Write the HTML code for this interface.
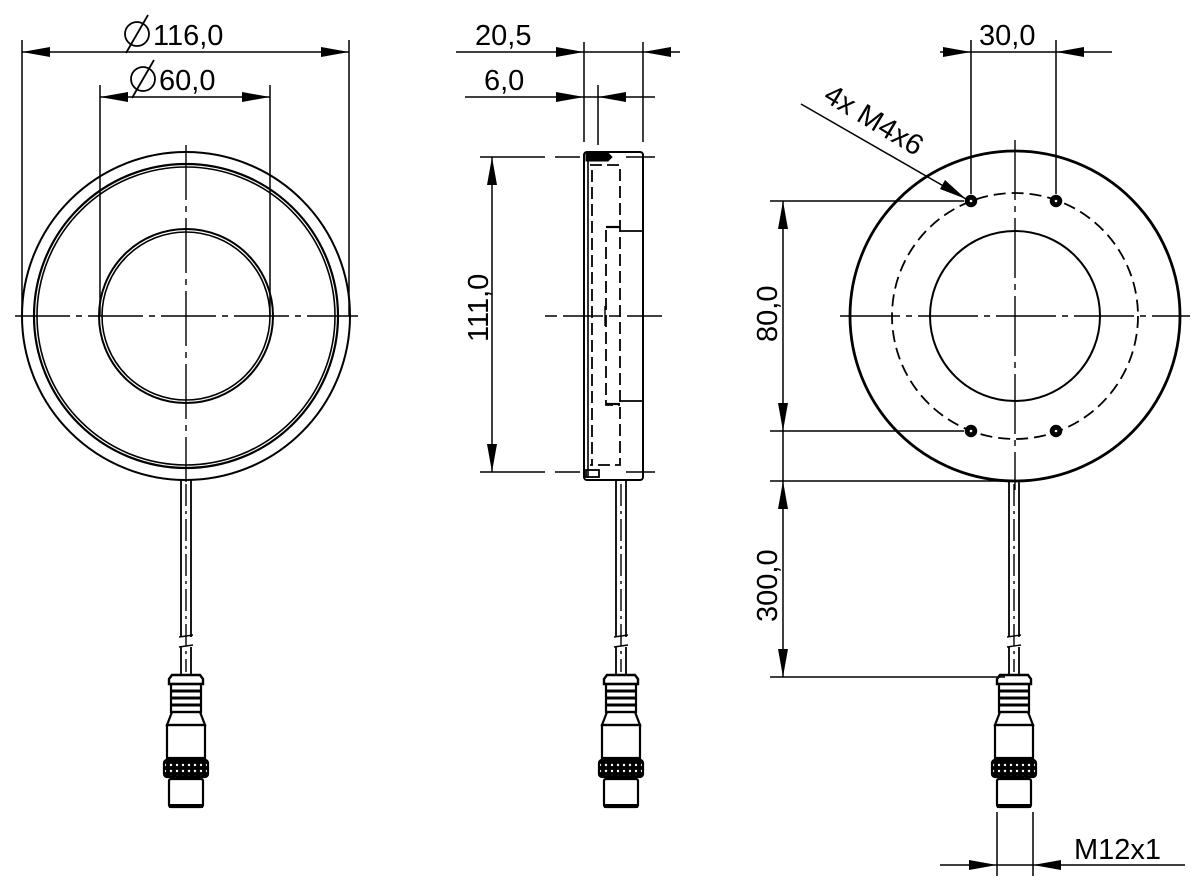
<!DOCTYPE html>
<html><head><meta charset="utf-8"><style>html,body{margin:0;padding:0;background:#fff}svg{display:block}text{font-family:"Liberation Sans",Arial,sans-serif;font-size:29px;fill:#000}</style></head><body>
<svg width="1200" height="894" viewBox="0 0 1200 894" xmlns="http://www.w3.org/2000/svg">
<defs>
<pattern id="kn" width="6" height="6" patternUnits="userSpaceOnUse"><rect width="6" height="6" fill="#000"/><circle cx="3" cy="3" r="1.2" fill="#fff"/></pattern>
<g id="conn" stroke="#000" fill="none" stroke-width="1.8">
<line x1="0" y1="484" x2="0" y2="672" stroke-dasharray="22,5,3,5" stroke-width="1.4"/>
<path d="M-14,675 L14,675 L17,679 L17,684 L-17,684 L-17,679 Z" stroke-width="2.4"/>
<rect x="-15" y="684" width="30" height="28" stroke-width="2.2"/>
<line x1="-15" y1="691" x2="15" y2="691" stroke-width="3"/>
<line x1="-15" y1="698" x2="15" y2="698" stroke-width="3"/>
<line x1="-15" y1="705" x2="15" y2="705" stroke-width="3"/>
<path d="M-14,712 L14,712 L19,725 L-19,725 Z" stroke-width="2.2"/>
<rect x="-19" y="725" width="38" height="33" stroke-width="2.2"/>
<rect x="-22" y="760" width="44" height="17" rx="3" fill="url(#kn)" stroke-width="2.2"/>
<rect x="-17" y="779" width="34" height="28" rx="2" stroke-width="2.2"/>
<line x1="-17" y1="806" x2="17" y2="806" stroke-width="4"/>
</g>
</defs>
<g stroke="#000" fill="none">
<!-- LEFT VIEW -->
<circle cx="186" cy="316" r="164" stroke-width="2"/>
<circle cx="186" cy="316" r="152" stroke-width="2.2"/>
<circle cx="186" cy="316" r="149" stroke-width="1.6"/>
<circle cx="186" cy="316" r="87" stroke-width="2"/>
<circle cx="186" cy="316" r="84" stroke-width="1.6"/>
<line x1="15" y1="316" x2="358" y2="316" stroke-width="1.4" stroke-dasharray="55,6,6,6"/>
<line x1="186" y1="145" x2="186" y2="482" stroke-width="1.4" stroke-dasharray="55,6,6,6"/>
<line x1="181" y1="480" x2="181" y2="637" stroke-width="1.8"/><line x1="191" y1="480" x2="191" y2="637" stroke-width="1.8"/>
<line x1="181" y1="647" x2="181" y2="675" stroke-width="1.8"/><line x1="191" y1="647" x2="191" y2="675" stroke-width="1.8"/>
<path d="M179,637 L193,635 M179,647 L193,645" stroke-width="1.4"/>
<line x1="22" y1="40" x2="22" y2="316" stroke-width="1.5"/>
<line x1="349" y1="40" x2="349" y2="316" stroke-width="1.5"/>
<line x1="22" y1="52" x2="349" y2="52" stroke-width="1.5"/>
<line x1="100" y1="85" x2="100" y2="316" stroke-width="1.5"/>
<line x1="270" y1="85" x2="270" y2="316" stroke-width="1.5"/>
<line x1="100" y1="97" x2="270" y2="97" stroke-width="1.5"/>
<!-- MIDDLE VIEW -->
<rect x="584" y="152" width="59" height="328" rx="3" stroke-width="2"/>
<line x1="588" y1="155" x2="588" y2="478" stroke-width="1.6"/>
<path d="M590,165 L620,165 L620,465 L590,465" stroke-width="1.8" stroke-dasharray="12,5"/>
<line x1="592" y1="170" x2="592" y2="465" stroke-width="1.8" stroke-dasharray="12,5"/>
<path d="M620,227 L606,227 L606,405 L620,405" stroke-width="1.8" stroke-dasharray="12,5"/>
<line x1="606" y1="227" x2="620" y2="227" stroke-width="2.2"/>
<line x1="606" y1="404" x2="620" y2="404" stroke-width="2.2"/>
<line x1="620" y1="231" x2="643" y2="231" stroke-width="1.8"/>
<line x1="620" y1="401" x2="643" y2="401" stroke-width="1.8"/>
<path d="M586,153 L608,153 L612,157 L608,161 L586,161 Z" fill="#000"/>
<rect x="586" y="470" width="13" height="7" stroke-width="1.8"/>
<line x1="545" y1="316" x2="662" y2="316" stroke-width="1.4" stroke-dasharray="12,6,40,6"/>
<line x1="605" y1="306" x2="605" y2="326" stroke-width="1.4"/>
<line x1="480" y1="157" x2="545" y2="157" stroke-width="1.5"/><line x1="555" y1="157" x2="580" y2="157" stroke-width="1.5"/><line x1="626" y1="157" x2="655" y2="157" stroke-width="1.5"/>
<line x1="480" y1="472" x2="545" y2="472" stroke-width="1.5"/><line x1="555" y1="472" x2="580" y2="472" stroke-width="1.5"/><line x1="626" y1="472" x2="655" y2="472" stroke-width="1.5"/>
<line x1="492" y1="157" x2="492" y2="472" stroke-width="1.5"/>
<line x1="584" y1="42" x2="584" y2="142" stroke-width="1.5"/>
<line x1="643" y1="42" x2="643" y2="142" stroke-width="1.5"/>
<line x1="598" y1="85" x2="598" y2="145" stroke-width="1.5"/>
<line x1="456" y1="52" x2="680" y2="52" stroke-width="1.5"/>
<line x1="465" y1="97" x2="655" y2="97" stroke-width="1.5"/>
<line x1="616" y1="480" x2="616" y2="637" stroke-width="1.8"/><line x1="626" y1="480" x2="626" y2="637" stroke-width="1.8"/>
<line x1="616" y1="647" x2="616" y2="675" stroke-width="1.8"/><line x1="626" y1="647" x2="626" y2="675" stroke-width="1.8"/>
<path d="M614,637 L628,635 M614,647 L628,645" stroke-width="1.4"/>
<!-- RIGHT VIEW -->
<circle cx="1015" cy="316" r="165" stroke-width="2.8"/>
<circle cx="1015" cy="316" r="123" stroke-width="1.8" stroke-dasharray="12,6"/>
<circle cx="1015" cy="316" r="85" stroke-width="2"/>
<line x1="840" y1="316" x2="1190" y2="316" stroke-width="1.4" stroke-dasharray="60,6,6,6"/>
<line x1="1015" y1="140" x2="1015" y2="490" stroke-width="1.4" stroke-dasharray="60,6,6,6"/>
<g stroke-width="1.5">
<circle cx="971" cy="201" r="5.5" fill="#000"/><circle cx="1056" cy="201" r="5.5" fill="#000"/>
<circle cx="971" cy="431" r="5.5" fill="#000"/><circle cx="1056" cy="431" r="5.5" fill="#000"/>
</g>
<g fill="#fff" stroke="none"><circle cx="971" cy="201" r="1.3"/><circle cx="1056" cy="201" r="1.3"/><circle cx="971" cy="431" r="1.3"/><circle cx="1056" cy="431" r="1.3"/></g>
<line x1="971" y1="40" x2="971" y2="194" stroke-width="1.5"/>
<line x1="1056" y1="40" x2="1056" y2="194" stroke-width="1.5"/>
<line x1="940" y1="52" x2="1112" y2="52" stroke-width="1.5"/>
<line x1="770" y1="201" x2="964" y2="201" stroke-width="1.5"/>
<line x1="770" y1="431" x2="964" y2="431" stroke-width="1.5"/>
<line x1="770" y1="481" x2="1010" y2="481" stroke-width="1.5"/>
<line x1="770" y1="677" x2="1005" y2="677" stroke-width="1.5"/>
<line x1="783" y1="201" x2="783" y2="677" stroke-width="1.5"/>
<line x1="801" y1="104" x2="966" y2="199" stroke-width="1.5"/>
<line x1="1009" y1="482" x2="1009" y2="637" stroke-width="1.8"/><line x1="1019" y1="482" x2="1019" y2="637" stroke-width="1.8"/>
<line x1="1009" y1="647" x2="1009" y2="675" stroke-width="1.8"/><line x1="1019" y1="647" x2="1019" y2="675" stroke-width="1.8"/>
<path d="M1007,637 L1021,635 M1007,647 L1021,645" stroke-width="1.4"/>
<line x1="997" y1="812" x2="997" y2="876" stroke-width="1.5"/>
<line x1="1033" y1="812" x2="1033" y2="876" stroke-width="1.5"/>
<line x1="940" y1="865" x2="1185" y2="865" stroke-width="1.5"/>
<!-- diameter symbols -->
<circle cx="137" cy="34" r="12" stroke-width="1.8"/><line x1="126" y1="53" x2="148" y2="15" stroke-width="1.8"/>
<circle cx="143" cy="79" r="12" stroke-width="1.8"/><line x1="132" y1="98" x2="154" y2="60" stroke-width="1.8"/>
</g>
<use href="#conn" transform="translate(186,0)"/>
<use href="#conn" transform="translate(621,0)"/>
<use href="#conn" transform="translate(1014,0)"/>
<!-- arrowheads -->
<g fill="#000">
<path d="M22,52 L50,47 L50,57 Z"/><path d="M349,52 L321,47 L321,57 Z"/>
<path d="M100,97 L128,92 L128,102 Z"/><path d="M270,97 L242,92 L242,102 Z"/>
<path d="M584,52 L556,47 L556,57 Z"/><path d="M643,52 L671,47 L671,57 Z"/>
<path d="M584,97 L556,92 L556,102 Z"/><path d="M598,97 L626,92 L626,102 Z"/>
<path d="M492,157 L487,185 L497,185 Z"/><path d="M492,472 L487,444 L497,444 Z"/>
<path d="M971,52 L943,47 L943,57 Z"/><path d="M1056,52 L1084,47 L1084,57 Z"/>
<path d="M783,201 L778,229 L788,229 Z"/><path d="M783,431 L778,403 L788,403 Z"/>
<path d="M783,481 L778,509 L788,509 Z"/><path d="M783,677 L778,649 L788,649 Z"/>
<path d="M966,199 L945,180 L940,189 Z"/>
<path d="M997,865 L969,860 L969,870 Z"/><path d="M1033,865 L1061,860 L1061,870 Z"/>
</g>
<text x="153" y="45">116,0</text>
<text x="159" y="90">60,0</text>
<text x="475" y="45">20,5</text>
<text x="484" y="90">6,0</text>
<text x="979" y="45">30,0</text>
<text x="1074" y="859">M12x1</text>
<text transform="translate(488,342) rotate(-90)">111,0</text>
<text transform="translate(777,342) rotate(-90)">80,0</text>
<text transform="translate(777,622) rotate(-90)">300,0</text>
<text transform="translate(822,100) rotate(31)">4x M4x6</text>
</svg>
</body></html>
